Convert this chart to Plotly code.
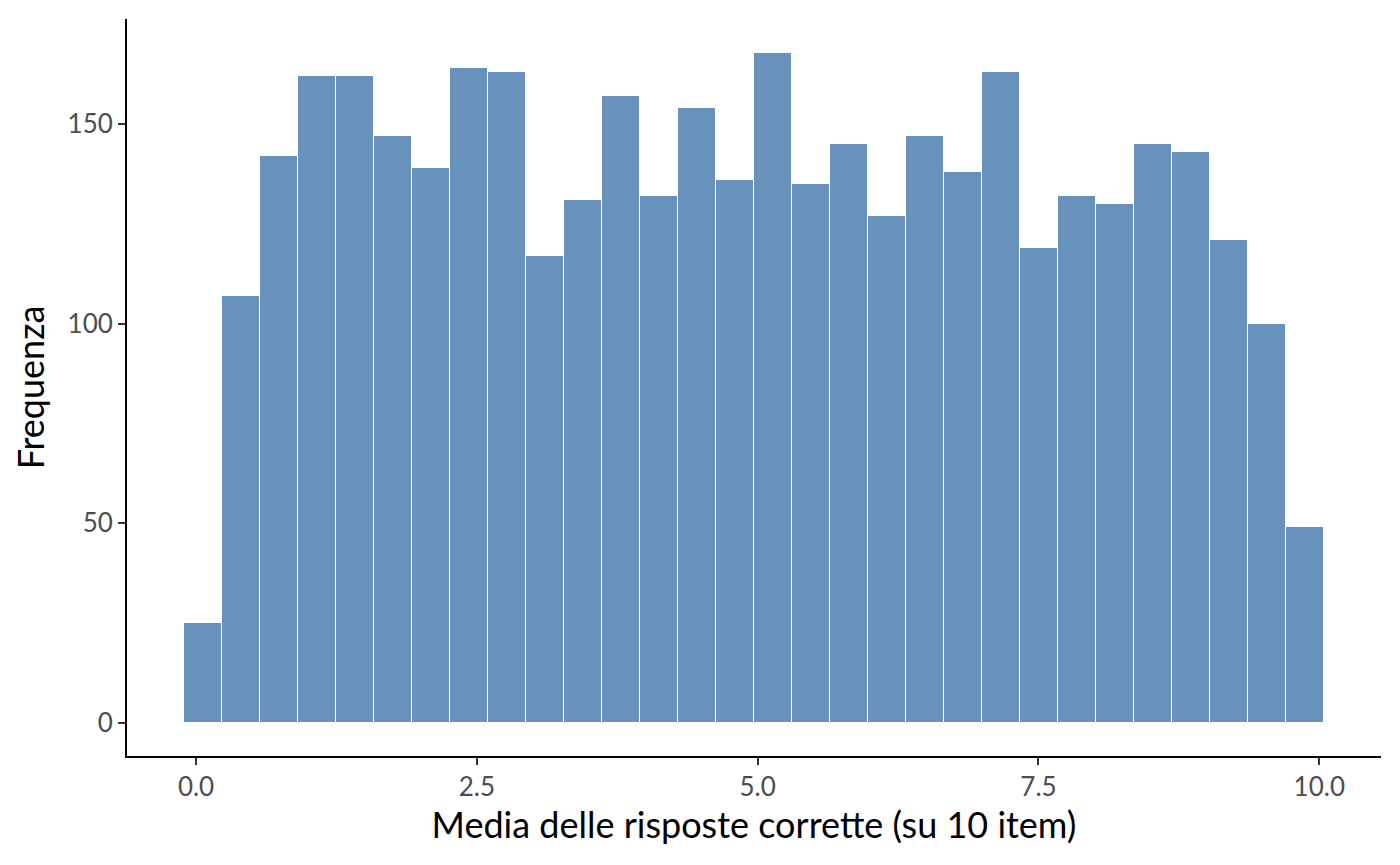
import plotly.graph_objects as go

# Histogram counts (30 bins)
counts = [25, 107, 142, 162, 162, 147, 139, 164, 163, 117,
          131, 157, 132, 154, 136, 168, 135, 145, 127, 147,
          138, 163, 119, 132, 130, 145, 143, 121, 100, 49]
bin_start = -0.107
bin_width = 0.3383
x_ticks = [0.0, 2.5, 5.0, 7.5, 10.0]
x_tick_labels = ["0.0", "2.5", "5.0", "7.5", "10.0"]
y_ticks = [0, 50, 100, 150]

centers = [bin_start + bin_width * (i + 0.5) for i in range(len(counts))]

fig = go.Figure(go.Bar(
    x=centers, y=counts, width=bin_width,
    marker=dict(color="#6892bb", line=dict(color="white", width=1)),
))

font_family = "Lato"
x_lo = bin_start
x_hi = bin_start + bin_width * len(counts)
pad = (x_hi - x_lo) * 0.05
ymax = max(counts)

fig.update_layout(
    width=1400, height=865,
    margin=dict(l=119, r=27, t=11, b=117),
    paper_bgcolor="white", plot_bgcolor="white",
    font=dict(family=font_family),
    bargap=0, showlegend=False,
    xaxis=dict(
        range=[x_lo - pad, x_hi + pad],
        tickvals=x_ticks, ticktext=x_tick_labels,
        showgrid=False, zeroline=False,
        showline=True, linecolor="black", linewidth=2,
        ticks="outside", ticklen=7, tickwidth=1.5, tickcolor="#333333",
        tickfont=dict(size=26, color="#4d4d4d", family=font_family),
        title=dict(text="Media delle risposte corrette (su 10 item)",
                   font=dict(size=36, color="black", family=font_family), standoff=8),
    ),
    yaxis=dict(
        range=[-ymax * 0.05, ymax * 1.05],
        tickvals=y_ticks,
        showgrid=False, zeroline=False,
        showline=True, linecolor="black", linewidth=2,
        ticks="outside", ticklen=7, tickwidth=1.5, tickcolor="#333333",
        tickfont=dict(size=26, color="#4d4d4d", family=font_family),
        title=dict(text="Frequenza",
                   font=dict(size=36, color="black", family=font_family), standoff=12),
    ),
)

fig.write_html("out.html")
